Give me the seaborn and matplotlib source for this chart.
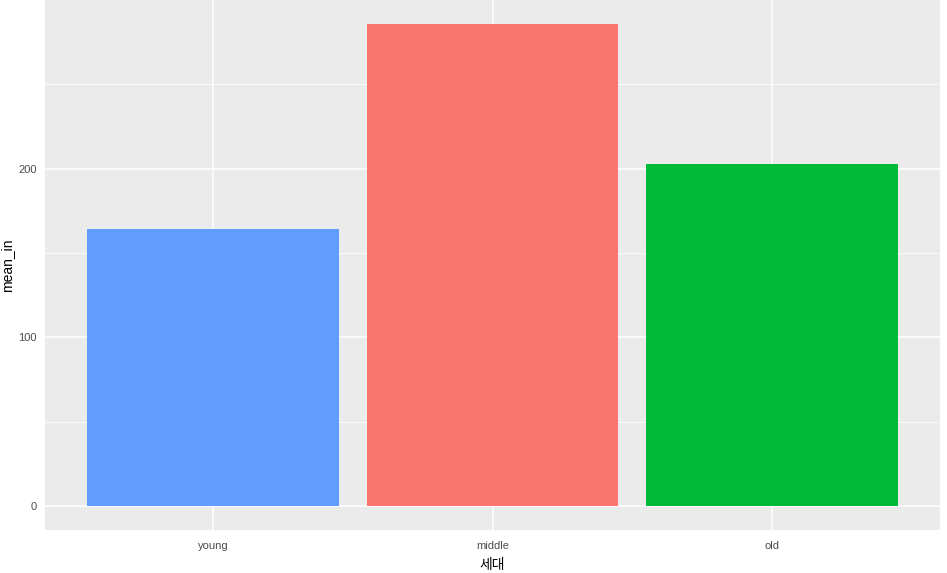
import matplotlib
matplotlib.use("Agg")
import matplotlib.pyplot as plt
import seaborn as sns
import pandas as pd

# data
ageg = ["young", "middle", "old"]
mean_in = [164.2, 285.6, 202.4]
bar_colors = ["#619CFF", "#F8766D", "#00BA38"]

df = pd.DataFrame({"ageg": ageg, "mean_in": mean_in})

sns.set_theme(style="darkgrid")
plt.rcParams["font.family"] = ["Liberation Sans", "Noto Sans CJK KR", "DejaVu Sans"]

fig = plt.figure(figsize=(9.47, 5.73), dpi=100)
ax = fig.add_axes([45 / 947, 43 / 573, 895 / 947, 530 / 573])

sns.barplot(data=df, x="ageg", y="mean_in", hue="ageg", palette=bar_colors,
            order=ageg, width=0.9, saturation=1, legend=False, linewidth=0, ax=ax)

ymax = max(mean_in)
ax.set_ylim(-0.05 * ymax, 1.05 * ymax)
ax.set_xlim(-0.6, len(ageg) - 0.4)
ax.set_yticks([0, 100, 200])
ax.set_yticks([50, 150, 250], minor=True)

ax.set_facecolor("#EBEBEB")
ax.grid(which="major", color="white", linewidth=1.1)
ax.grid(which="minor", axis="y", color="white", linewidth=0.55)
ax.set_axisbelow(True)
for s in ax.spines.values():
    s.set_visible(False)

ax.tick_params(axis="both", which="major", length=3, width=0.8, color="#333333",
               labelsize=8, labelcolor="#4D4D4D")
ax.tick_params(axis="x", pad=5)
ax.tick_params(axis="y", pad=3)
ax.tick_params(which="minor", length=0)

ax.set_xlabel("세대", fontsize=10, color="black", labelpad=5)
ax.set_ylabel("mean_in", fontsize=10, color="black", labelpad=3)

fig.savefig("out.png", dpi=100, facecolor="white")
